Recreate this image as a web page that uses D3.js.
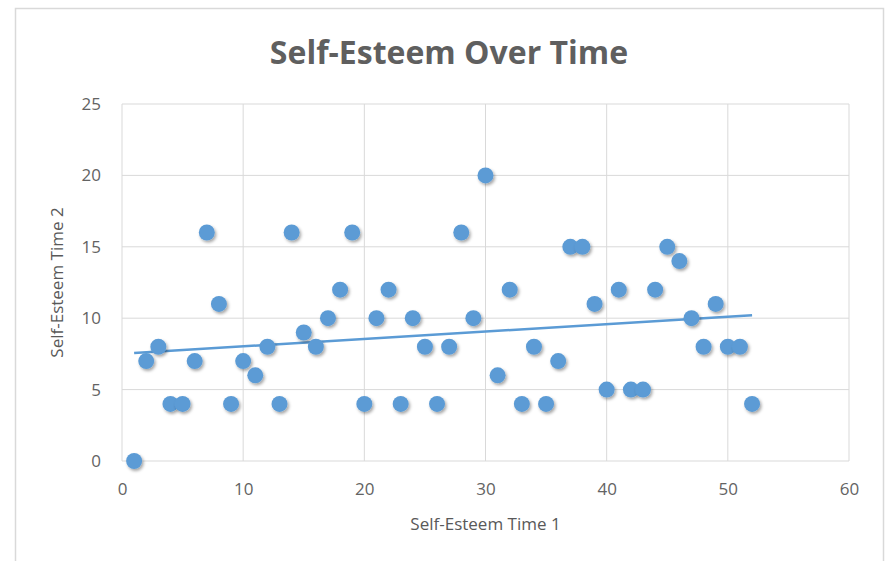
<!DOCTYPE html>
<html>
<head>
<meta charset="utf-8">
<script src="https://cdn.jsdelivr.net/npm/d3@7"></script>
<style>
  body { margin:0; background:#fff; }
  text { font-family: "Open Sans", "Liberation Sans", sans-serif; fill:#595959; }
</style>
</head>
<body>
<div id="chart"></div>
<script>
// data
var time1 = [1,2,3,4,5,6,7,8,9,10,11,12,13,14,15,16,17,18,19,20,21,22,23,24,25,26,
             27,28,29,30,31,32,33,34,35,36,37,38,39,40,41,42,43,44,45,46,47,48,49,50,51,52];
var time2 = [0,7,8,4,4,7,16,11,4,7,6,8,4,16,9,8,10,12,16,4,10,12,4,10,8,4,
             8,16,10,20,6,12,4,8,4,7,15,15,11,5,12,5,5,12,15,14,10,8,11,8,8,4];
var xTicks = [0,10,20,30,40,50,60];
var yTicks = [0,5,10,15,20,25];

var W = 891, H = 561;
var m = {top:104, right:42, bottom:100, left:122};
var blue = "#5b9bd5";

var svg = d3.select("#chart").append("svg").attr("width",W).attr("height",H);

// outer chart frame
svg.append("rect").attr("x",15.5).attr("y",8.5).attr("width",868).attr("height",570)
    .style("fill","#fff").style("stroke","#d9d9d9").style("stroke-width",1.5);

var defs = svg.append("defs");
var f = defs.append("filter").attr("id","shadow").attr("x","-50%").attr("y","-50%").attr("width","200%").attr("height","200%");
f.append("feDropShadow").attr("dx",1.5).attr("dy",2).attr("stdDeviation",1.5)
    .attr("flood-color","#000").attr("flood-opacity",0.35);

var x = d3.scaleLinear().domain([0,60]).range([m.left, W-m.right]);
var y = d3.scaleLinear().domain([0,25]).range([H-m.bottom, m.top]);

// gridlines
var grid = svg.append("g");
grid.selectAll("line.v").data(xTicks).enter().append("line")
    .attr("x1",function(d){return x(d);}).attr("x2",function(d){return x(d);})
    .attr("y1",y(0)).attr("y2",y(25))
    .style("stroke","#d9d9d9").style("stroke-width",1);
grid.selectAll("line.h").data(yTicks).enter().append("line")
    .attr("x1",x(0)).attr("x2",x(60))
    .attr("y1",function(d){return y(d);}).attr("y2",function(d){return y(d);})
    .style("stroke","#d9d9d9").style("stroke-width",1);

// axes (labels only)
var xAxis = svg.append("g").attr("transform","translate(0,"+y(0)+")")
    .call(d3.axisBottom(x).tickValues(xTicks).tickSize(0).tickPadding(22));
var yAxis = svg.append("g").attr("transform","translate("+x(0)+",0)")
    .call(d3.axisLeft(y).tickValues(yTicks).tickSize(0).tickPadding(21));
[xAxis,yAxis].forEach(function(a){
    a.select(".domain").remove();
    a.selectAll("text").style("font-size","17px").style("fill","#636363")
        .style("font-family","'Open Sans', sans-serif");
});

// linear trendline from the data
var mx = d3.mean(time1), my = d3.mean(time2);
var sxy = 0, sxx = 0;
time1.forEach(function(v,i){ sxy += (v-mx)*(time2[i]-my); sxx += (v-mx)*(v-mx); });
var slope = sxy/sxx, icpt = my - slope*mx;
var x0 = d3.min(time1), x1 = d3.max(time1);
svg.append("line")
    .attr("x1",x(x0)).attr("y1",y(icpt+slope*x0))
    .attr("x2",x(x1)).attr("y2",y(icpt+slope*x1))
    .style("stroke",blue).style("stroke-width",2.5);

// points
svg.append("g").selectAll("circle").data(time1).enter().append("circle")
    .attr("cx",function(d){return x(d);})
    .attr("cy",function(d,i){return y(time2[i]);})
    .attr("r",8)
    .style("fill",blue)
    .attr("filter","url(#shadow)");

// titles
svg.append("text").attr("x",449).attr("y",64)
    .attr("text-anchor","middle")
    .style("font-size","32px").style("font-weight","bold").style("fill","#5f5f5f")
    .text("Self-Esteem Over Time");

svg.append("text").attr("x",(x(0)+x(60))/2).attr("y",530)
    .attr("text-anchor","middle").style("font-size","17px")
    .text("Self-Esteem Time 1");

svg.append("text")
    .attr("transform","translate(63,"+((y(0)+y(25))/2)+") rotate(-90)")
    .attr("text-anchor","middle").style("font-size","17px")
    .text("Self-Esteem Time 2");
</script>
</body>
</html>
